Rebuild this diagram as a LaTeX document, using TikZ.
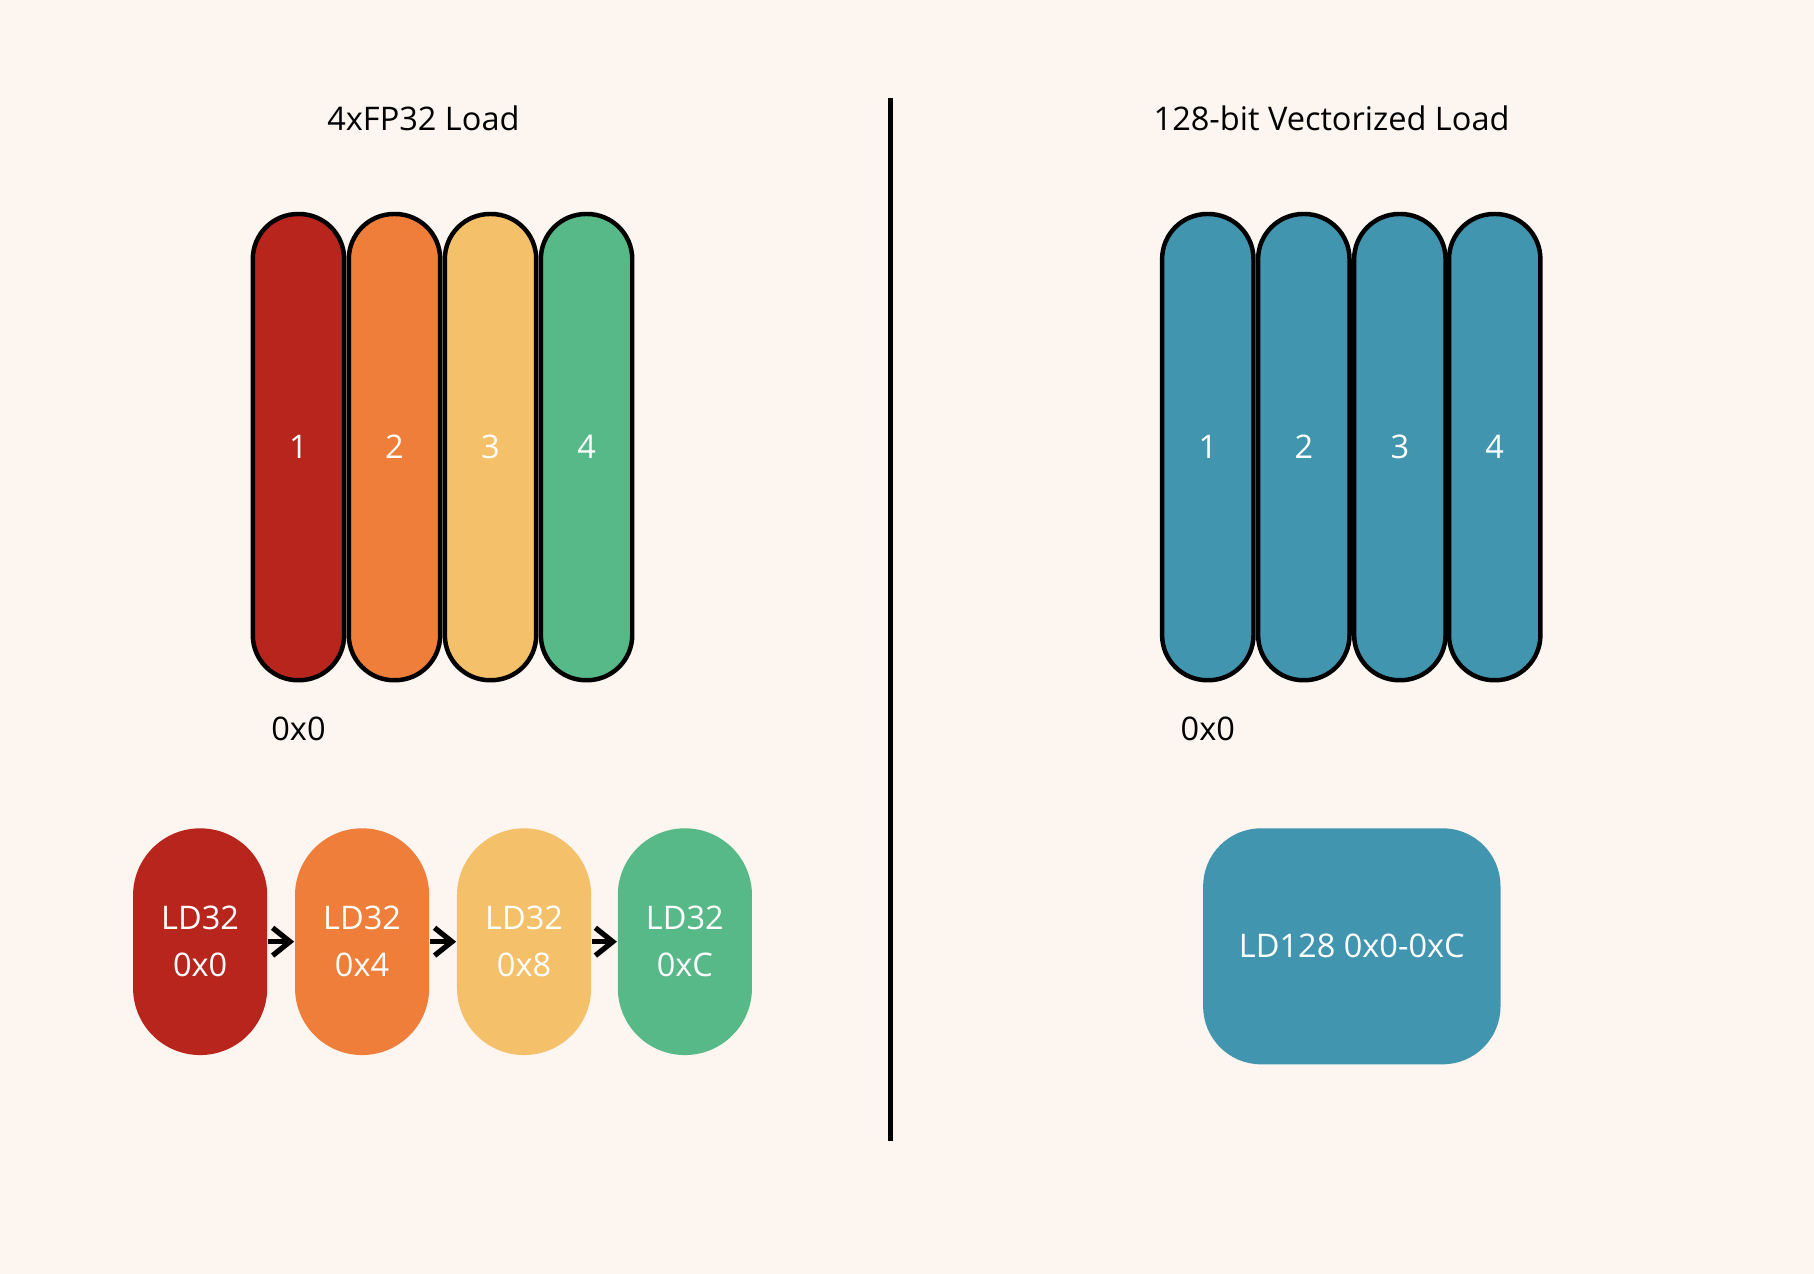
\documentclass[tikz,border=0pt]{standalone}
\usepackage{fontspec}
\setmainfont{Open Sans}
\usetikzlibrary{positioning,arrows.meta}
\definecolor{bgcol}{HTML}{FDF5EF}
\definecolor{redcol}{HTML}{B8251C}
\definecolor{orangecol}{HTML}{EE7E3A}
\definecolor{yellowcol}{HTML}{F4C06A}
\definecolor{greencol}{HTML}{57B888}
\definecolor{tealcol}{HTML}{4295AF}
\begin{document}
\begin{tikzpicture}[
  lane/.style={rectangle, draw=black, line width=1.1pt, rounded corners=0.39cm,
    minimum width=0.79cm, minimum height=4.03cm, text=white, inner sep=0pt,
    font=\fontsize{8}{10}\selectfont},
  load/.style={rectangle, rounded corners=0.58cm, minimum width=1.16cm,
    minimum height=1.96cm, text=white, align=center, inner sep=0pt,
    font=\fontsize{8}{11.5}\selectfont},
  caption/.style={font=\fontsize{8}{10}\selectfont},
  nextload/.style={-{Straight Barb[length=1.5mm,width=2.4mm]}, line width=1.3pt}
]
\fill[bgcol] (0,0) rectangle (15.68,11.01);
\useasboundingbox (0,0) rectangle (15.68,11.01);

% Titles
\node (title4x) [caption] at (3.66,9.99) {4xFP32 Load};
\node (titlevec) [caption] at (11.51,9.99) {128-bit Vectorized Load};

% Divider
\coordinate (divtop) at (7.70,10.16);
\coordinate (divbot) at (7.70,1.15);
\draw[line width=1.2pt] (divtop) -- (divbot);

% Left lanes
\node (lane1) [lane, fill=redcol] at (2.58,7.145) {1};
\node (lane2) [lane, fill=orangecol] at (3.41,7.145) {2};
\node (lane3) [lane, fill=yellowcol] at (4.24,7.145) {3};
\node (lane4) [lane, fill=greencol] at (5.07,7.145) {4};
\node (addrleft) [caption] at (2.58,4.71) {0x0};

% Right lanes
\node (vlane1) [lane, fill=tealcol] at (10.44,7.145) {1};
\node (vlane2) [lane, fill=tealcol] at (11.27,7.145) {2};
\node (vlane3) [lane, fill=tealcol] at (12.10,7.145) {3};
\node (vlane4) [lane, fill=tealcol] at (12.92,7.145) {4};
\node (addrright) [caption] at (10.44,4.71) {0x0};

% Scalar loads
\node (ld0) [load, fill=redcol] at (1.73,2.87) {LD32\\0x0};
\node (ld4) [load, fill=orangecol] at (3.13,2.87) {LD32\\0x4};
\node (ld8) [load, fill=yellowcol] at (4.53,2.87) {LD32\\0x8};
\node (ldc) [load, fill=greencol] at (5.92,2.87) {LD32\\0xC};
\draw[nextload] (ld0) -- (ld4);
\draw[nextload] (ld4) -- (ld8);
\draw[nextload] (ld8) -- (ldc);

% Vector load
\node (ld128) [load, fill=tealcol, rounded corners=0.5cm, minimum width=2.57cm,
  minimum height=2.04cm] at (11.685,2.83) {LD128 0x0-0xC};

\end{tikzpicture}
\end{document}
